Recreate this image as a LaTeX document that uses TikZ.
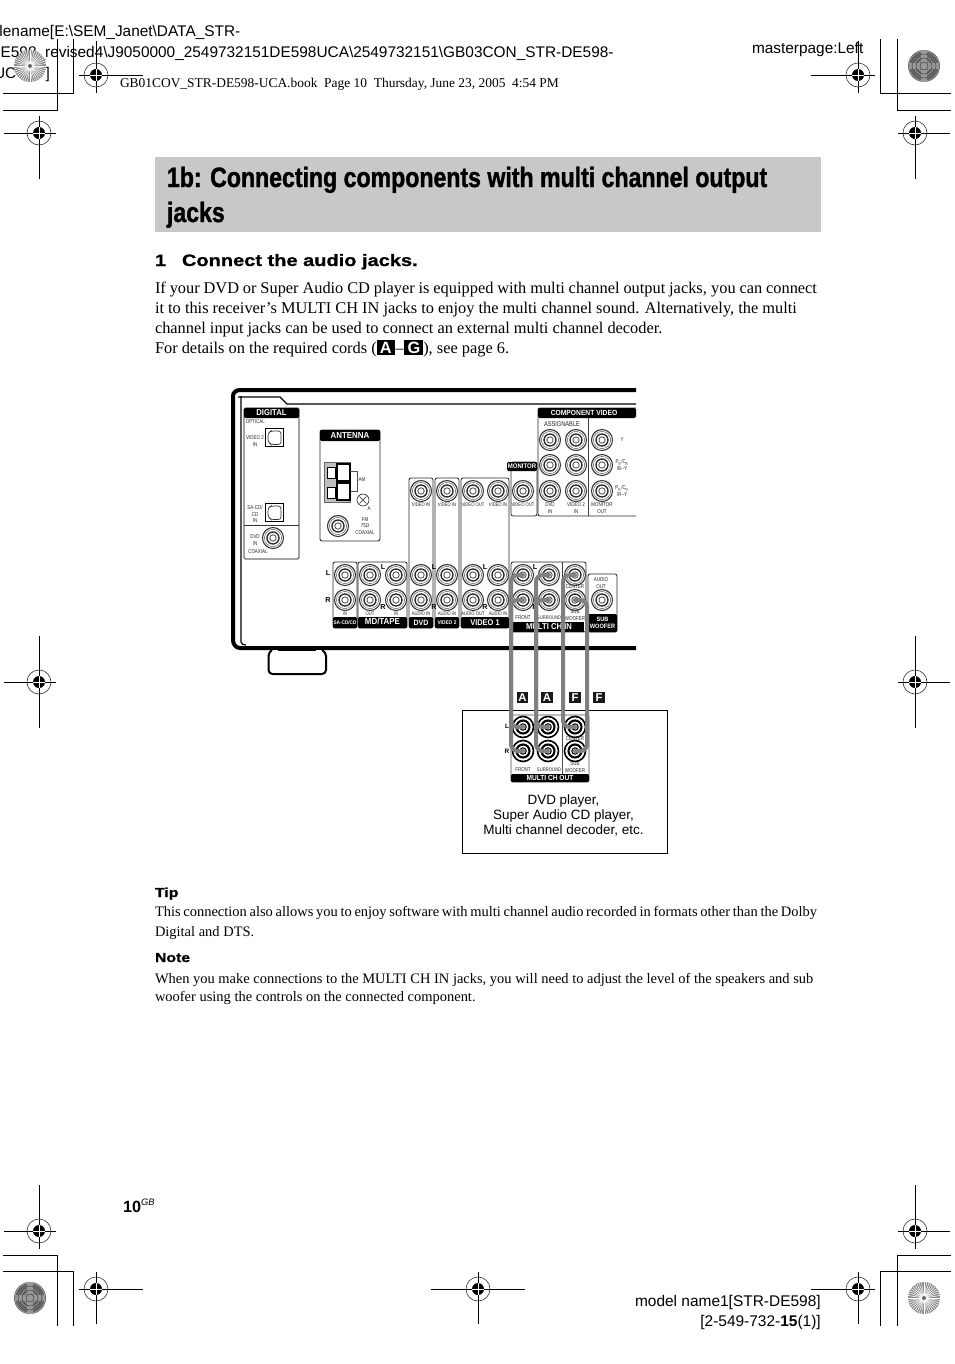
\documentclass[tikz,border=0pt]{standalone}
\usepackage{fontspec}
\setmainfont{Liberation Serif}
\setsansfont{Liberation Sans}
\newfontfamily\titlefont[FakeStretch=0.825,FakeBold=1.3]{Liberation Sans Bold}
\newfontfamily\widebold[FakeStretch=1.21,FakeBold=0.9]{Liberation Sans Bold}
\newfontfamily\tinyfont[FakeStretch=0.8]{Liberation Sans}
\newfontfamily\tinybold[FakeStretch=0.9]{Liberation Sans Bold}
\newcommand{\fsz}[2]{\fontsize{#1}{#2}\selectfont}
\newcommand{\inlinetag}[1]{{\setlength{\fboxsep}{1.3pt}\colorbox{black}{\hspace{1pt}\textcolor{white}{\sffamily\bfseries #1}\hspace{1pt}}}}
\definecolor{cable}{gray}{0.5}
\definecolor{band}{gray}{0.785}
\tikzset{
 x=0.75pt,y=-0.75pt,
 txt/.style={inner sep=0,outer sep=0,anchor=base west},
 hdr/.style={inner sep=0,text=white,font=\tinybold\fsz{6.4}{7}},
 mini/.style={inner sep=0,align=center,text=black!85,font=\tinyfont\fsz{4.2}{4.7}},
 micro/.style={inner sep=0,align=center,text=black!85,font=\tinyfont\fsz{3.9}{4.2}},
 lr/.style={inner sep=0,font=\sffamily\bfseries\fsz{5.4}{6}},
 panel/.style={draw=black!85,line width=0.6pt,rounded corners=1.5pt},
 jacknode/.style={circle,minimum size=21*0.75pt,inner sep=0,draw=black!80,line width=0.8pt},
 cablepath/.style={draw=cable,line width=3pt,rounded corners=5pt,line cap=round},
 regline/.style={draw=black,line width=0.55pt},
 crop/.style={draw=black,line width=0.6pt},
 letter/.style={fill=black!90,text=white,font=\sffamily\bfseries\fsz{8.5}{9},minimum width=8.7pt,minimum height=8.7pt,inner sep=0},
}
\newcommand{\jack}[3]{%
 \node[jacknode] (#1) at (#2,#3) {};
 \draw[black!85,line width=1.0pt] (#1.center) circle[radius=6];
 \draw[black!70,line width=0.6pt] (#1.center) circle[radius=3.2];
 \draw[black!60,line width=0.4pt] (#1.center) circle[radius=8.6];
}
\newcommand{\bjack}[3]{%
 \node[jacknode,line width=1.2pt,draw=black] (#1) at (#2,#3) {};
 \draw[black,line width=1.6pt] (#1.center) circle[radius=6.5];
 \draw[black,line width=0.8pt] (#1.center) circle[radius=3.2];
}
\newcommand{\regmark}[7]{% name x y left right top bottom
 \coordinate (#1) at (#2,#3);
 \draw[regline] (#4,#3) -- (#5,#3);
 \draw[regline] (#2,#6) -- (#2,#7);
 \draw[black!80,line width=0.45pt] (#1) circle[radius=12];
 \fill[black] (#1) circle[radius=6];
 \draw[white,line width=0.55pt] ($(#1)+(-6,0)$) -- ($(#1)+(6,0)$);
 \draw[white,line width=0.55pt] ($(#1)+(0,-6)$) -- ($(#1)+(0,6)$);
}
\newcommand{\radialdisc}[2]{%
 \fill[black!45] (#1,#2) circle[radius=16];
 \foreach \a in {0,9,...,351}{\draw[white,line width=0.4pt] (#1,#2) -- ++(\a:16);}
 \fill[black!60] (#1,#2) circle[radius=2];
}
\newcommand{\moirediscc}[2]{%
 \fill[black!62] (#1,#2) circle[radius=16];
 \foreach \r in {3,6,...,15}{\draw[black!35,line width=0.45pt] (#1,#2) circle[radius=\r];}
 \fill[black!40] ($(#1,#2)+(-3,-16)$) rectangle ($(#1,#2)+(3,16)$);
 \fill[black!40] ($(#1,#2)+(-15,-3)$) rectangle ($(#1,#2)+(15,3)$);
 \foreach \r in {4,8,12}{\draw[black!70,line width=0.45pt] (#1,#2) circle[radius=\r];}
}
\usetikzlibrary{calc}
\begin{document}
\begin{tikzpicture}
\useasboundingbox (0,0) rectangle (954,1364);
\fill[white] (0,0) rectangle (954,1364);
\begin{scope}
\clip (0,0) rectangle (954,1364);
% header text
\node[txt,font=\sffamily\fsz{11.55}{14}] (h1) at (-0.5,36) {lename[E:\textbackslash SEM\_Janet\textbackslash DATA\_STR-};
\node[txt,font=\sffamily\fsz{11.55}{14}] (h2) at (-10.5,57) {DE598\_revised4\textbackslash J9050000\_2549732151DE598UCA\textbackslash 2549732151\textbackslash GB03CON\_STR-DE598-};
\node[txt,font=\sffamily\fsz{11.55}{14}] (h3) at (-6,78) {UC\hspace{22pt}]};
\node[txt,font=\sffamily\fsz{11.55}{14}] (h4) at (752,53) {masterpage:Left};
\node[txt,font=\fsz{10.08}{11}] (h5) at (120,87) {GB01COV\_STR-DE598-UCA.book\ \ Page 10\ \ Thursday, June 23, 2005\ \ 4:54 PM};
% crop marks
\draw[crop] (3,93) -| (73,39);
\draw[crop] (3,110) -| (57,39);
\draw[crop] (951,93) -| (880,39);
\draw[crop] (951,110) -| (897,39);
\draw[crop] (3,1255) -| (57,1326);
\draw[crop] (3,1271) -| (73,1326);
\draw[crop] (951,1255) -| (897,1326);
\draw[crop] (951,1271) -| (880,1326);
\radialdisc{30}{66}
\moirediscc{924}{66}
\moirediscc{30}{1298}
\radialdisc{924}{1298}
\regmark{r1}{96}{75}{79}{143}{41}{93}
\regmark{r2}{39}{133}{4}{56}{116}{179}
\regmark{r3}{858}{75}{811}{875}{41}{93}
\regmark{r4}{915}{133}{898}{950}{116}{179}
\regmark{r5}{39}{682}{4}{56}{636}{728}
\regmark{r6}{915}{682}{898}{950}{636}{728}
\regmark{r7}{39}{1231}{4}{56}{1185}{1249}
\regmark{r8}{96}{1289}{79}{143}{1272}{1324}
\regmark{r9}{478}{1289}{431}{525}{1272}{1324}
\regmark{r10}{858}{1289}{811}{875}{1272}{1324}
\regmark{r11}{915}{1231}{898}{950}{1185}{1249}
% title
\fill[band] (155,157) rectangle (821,232);
\node[txt,font=\titlefont\fsz{21}{24}] (t1) at (167,187) {1b: Connecting components with multi channel output};
\node[txt,font=\titlefont\fsz{21}{24}] (t2) at (167,222) {jacks};
\node[txt,font=\widebold\fsz{12.4}{14}] (s0) at (155,266) {1};
\node[txt,font=\widebold\fsz{12.4}{14}] (s1) at (182,266) {Connect the audio jacks.};
\node[txt,font=\fsz{12.27}{15}] (b1) at (155,293) {\hbox to 496.5pt{\spaceskip=0.15em plus 1em\relax If your DVD or Super Audio CD player is equipped with multi channel output jacks, you can connect}};
\node[txt,font=\fsz{12.27}{15}] (b2) at (155,313) {it to this receiver’s MULTI CH IN jacks to enjoy the multi channel sound. Alternatively, the multi};
\node[txt,font=\fsz{12.27}{15}] (b3) at (155,333) {channel input jacks can be used to connect an external multi channel decoder.};
\node[txt,font=\fsz{12.27}{15}] (b4) at (155,353) {For details on the required cords (\inlinetag{A}\hspace{0.6pt}–\hspace{0.6pt}\inlinetag{G}), see page 6.};
% chassis
\draw[black,line width=3pt] (636,390) -- (240,390) to[out=180,in=90] (233,396) -- (233,640) to[out=270,in=180] (240,648) -- (636,648);
\draw[black,line width=0.9pt] (241,396) -- (241,642) to[out=270,in=180] (246,645);
\draw[black,line width=1pt] (238,397) -- (280,397) -- (287,404) -- (636,404);
\draw[black,line width=1.5pt,rounded corners=3pt,fill=white] (272,650) -- (268.5,652) -- (268.5,674) -- (326,674) -- (326,652) -- (322,650);
\draw[black,line width=0.7pt] (278,650) -- (316,650);
% DIGITAL
\draw[draw=black!55,line width=1pt,rounded corners=1.5pt] (244,408) rectangle (299,559);
\fill[black,rounded corners=1pt] (244,408) rectangle (299,418);
\node[hdr] (ldig) at (271.5,413) {DIGITAL};
\draw[black!80,line width=0.6pt] (244,525) -- (299,525);
\node[mini,anchor=west] (lopt) at (245.5,422) {OPTICAL};
\node[mini] (lv2) at (255,441) {VIDEO 2\\IN};
\node[mini] (lsa) at (255,514) {SA-CD/\\CD\\IN};
\node[mini] (ldvd) at (255,540) {DVD\\IN};
\node[mini,anchor=west] (lco) at (248,552) {COAXIAL};
\node[draw=black,line width=1.2pt,minimum size=13.5pt,inner sep=0] (op1) at (274.5,437.5) {};
\draw[black!80,line width=0.5pt,rounded corners=2pt] (268,442) -- (271,444.5) -- (281,444.5) -- (281,431) -- (271,431) -- (268,433) -- cycle;
\node[draw=black,line width=1.2pt,minimum size=13.5pt,inner sep=0] (op2) at (274.5,512.5) {};
\draw[black!80,line width=0.5pt,rounded corners=2pt] (268,517) -- (271,519.5) -- (281,519.5) -- (281,506) -- (271,506) -- (268,508) -- cycle;
\jack{jcoax}{273}{538}
% ANTENNA
\node[panel,minimum width=45pt,minimum height=83.2pt,inner sep=0] (ant) at (350,485.5) {};
\fill[black,rounded corners=1pt] (320,430) rectangle (380,441);
\node[hdr,font=\tinybold\fsz{6.6}{7}] (lant) at (350,435.5) {ANTENNA};
\fill[black!25] (324,462) rectangle (350,502);
\draw[black!60,line width=0.4pt] (324,462) rectangle (350,502);
\draw[black,line width=0.8pt,fill=white] (337,464) rectangle (350,481);
\draw[black,line width=0.8pt,fill=white] (337,483) rectangle (350,500);
\draw[black,line width=0.7pt,fill=white] (327,467) rectangle (335,478);
\draw[black,line width=0.7pt,fill=white] (327,487) rectangle (335,498);
\draw[black!70,line width=0.5pt] (350,471) -- (357,471) -- (357,491) -- (350,491);
\node[mini] (lam) at (362,480) {AM};
\node[draw=black!85,circle,line width=0.5pt,minimum size=9pt,inner sep=0] (screw) at (363,500) {};
\draw[black!85,line width=0.5pt] (359.5,496.5) -- (366.5,503.5) (359.5,503.5) -- (366.5,496.5);
\node[mini] (lgnd) at (369,509) {A};
\jack{jfm}{338}{526}
\node[mini] (lfm) at (365,526) {FM\\75Ω\\COAXIAL};
% audio boxes
\node[panel,minimum width=18pt,minimum height=49.5pt,inner sep=0] (bsa) at (345,595) {};
\fill[black,rounded corners=1pt] (333,617) rectangle (357,628);
\node[hdr,font=\tinybold\fsz{3.9}{5}] (lsac) at (345,622.5) {SA-CD/CD};
\node[panel,minimum width=36.8pt,minimum height=49.5pt,inner sep=0] (bmd) at (382.5,595) {};
\fill[black,rounded corners=1pt] (358,617) rectangle (407,628);
\node[hdr,font=\tinybold\fsz{6.6}{7}] (lmd) at (382.5,621.5) {MD/TAPE};
\node[panel,minimum width=18pt,minimum height=112.5pt,inner sep=0] (bdvd) at (421,553) {};
\fill[black,rounded corners=1pt] (409,617) rectangle (433,628);
\node[hdr,font=\tinybold\fsz{5.8}{7}] (ldv) at (421,622.5) {DVD};
\node[panel,minimum width=18pt,minimum height=112.5pt,inner sep=0] (bv2) at (447,553) {};
\fill[black,rounded corners=1pt] (435,617) rectangle (459,628);
\node[hdr,font=\tinybold\fsz{4}{5}] (lv2b) at (447,622.5) {VIDEO 2};
\node[panel,minimum width=36pt,minimum height=112.5pt,inner sep=0] (bv1) at (485,553) {};
\fill[black,rounded corners=1pt] (461,617) rectangle (509,628);
\node[hdr,font=\tinybold\fsz{6.2}{7}] (lv1) at (485,622.5) {VIDEO 1};
% monitor
\node[panel,minimum width=19.5pt,minimum height=40.5pt,inner sep=0] (bmon) at (524,489) {};
\fill[black,rounded corners=1pt] (507,462) rectangle (537,471);
\node[hdr,font=\tinybold\fsz{5}{5}] (lmon) at (522,466.5) {MONITOR};
% component
\draw[panel] (636,516) -- (538,516) -- (538,408) -- (636,408);
\fill[black,rounded corners=1pt] (538,408) rectangle (636,418);
\node[hdr,font=\tinybold\fsz{5.6}{6}] (lcomp) at (584,413) {COMPONENT VIDEO};
\draw[black!75,line width=0.6pt] (588,418) -- (588,516);
\node[mini,font=\tinyfont\fsz{5.3}{6}] (lass) at (562,424.5) {ASSIGNABLE};
% multi ch in
\draw[panel] (511,562) rectangle (586,632);
\draw[black!75,line width=0.6pt] (562,562) -- (562,622);
\fill[black] (513,622) rectangle (584,632);
\node[hdr,font=\tinybold\fsz{6.4}{7}] (lmci) at (549,627) {MULTI CH IN};
% sub woofer
\node[panel,minimum width=21.75pt,minimum height=43.5pt,inner sep=0] (bsub) at (602.5,603) {};
\fill[black,rounded corners=1pt] (588,614) rectangle (617,632);
\node[hdr,font=\tinybold\fsz{4.7}{5.4},align=center] (lsub) at (602.5,623) {SUB\\WOOFER};
\node[mini] (laud) at (601,583) {AUDIO\\OUT};
% jacks
\jack{sa1}{345}{575}\jack{sa2}{345}{600}
\jack{md1}{370}{575}\jack{md2}{370}{600}\jack{md3}{396}{575}\jack{md4}{396}{600}
\jack{dv0}{421}{491}\jack{dv1}{421}{575}\jack{dv2}{421}{600}
\jack{v20}{447}{491}\jack{v21}{447}{575}\jack{v22}{447}{600}
\jack{v10}{473}{491}\jack{v1i}{498}{491}\jack{v11}{473}{575}\jack{v12}{473}{600}\jack{v13}{498}{575}\jack{v14}{498}{600}
\jack{mo0}{523}{491}
\jack{c11}{550}{440}\jack{c12}{550}{465}\jack{c13}{550}{491}
\jack{c21}{576}{440}\jack{c22}{576}{465}\jack{c23}{576}{491}
\jack{c31}{602}{440}\jack{c32}{602}{465}\jack{c33}{602}{491}
\jack{mfl}{523}{575}\jack{mfr}{523}{600}\jack{msl}{549}{575}\jack{msr}{549}{600}
\jack{mce}{575}{575}\jack{msw}{575}{600}
\jack{jsub}{602}{600}
% small labels
\foreach \xx/\tt in {345/IN,370/OUT,396/IN,421/AUDIO IN,447/AUDIO IN,473/AUDIO OUT,498/AUDIO IN}{\node[micro] at (\xx,613.5) {\tt};}
\foreach \xx/\tt in {421/VIDEO IN,447/VIDEO IN,473/VIDEO OUT,498/VIDEO IN,523/VIDEO OUT}{\node[micro] at (\xx,505) {\tt};}
\node[mini] (ld1) at (550,508) {DVD\\IN};
\node[mini] (ld2) at (576,508) {VIDEO 2\\IN};
\node[mini] (ld3) at (602,508) {MONITOR\\OUT};
\node[mini] (ly) at (622,440) {Y};
\node[mini] (lpb) at (622,465) {P\textsubscript{B}/C\textsubscript{B}\\/B--Y};
\node[mini] (lpr) at (622,491) {P\textsubscript{R}/C\textsubscript{R}\\/R--Y};
\node[mini] (lfr) at (523,618) {FRONT};
\node[micro] (lsu) at (549,618) {SURROUND};
\node[mini] (lce) at (575,587) {CENTER};
\node[mini] (lsw) at (575,615) {SUB\\WOOFER};
\foreach \xx/\yy/\tt in {328/573/L,328/600/R,383/567/L,383/607/R,434/567/L,434/607/R,485/567/L,485/607/R,535/567/L,535/607/R}{\node[lr] at (\xx,\yy) {\tt};}
% device
\node[draw=black,line width=0.6pt,minimum width=153.4pt,minimum height=107.25pt,inner sep=0] (dev) at (564.75,782) {};
\draw[black!70,line width=0.6pt,rounded corners=1.5pt] (511,715) rectangle (589,782);
\draw[black!70,line width=0.6pt] (562,715) -- (562,775);
\fill[black,rounded corners=1pt] (511,774) rectangle (589,782);
\node[hdr,font=\tinybold\fsz{5.5}{6}] (lmco) at (550,778) {MULTI CH OUT};
\bjack{dfl}{523}{727}\bjack{dfr}{523}{751}\bjack{dsl}{548}{727}\bjack{dsr}{548}{751}
\bjack{dce}{575}{727}\bjack{dsw}{575}{751}
\node[lr,font=\sffamily\bfseries\fsz{4.8}{5}] (ldl) at (507,726) {L};
\node[lr,font=\sffamily\bfseries\fsz{4.8}{5}] (ldr) at (507,751) {R};
\node[mini] (dfr2) at (523,770) {FRONT};
\node[micro] (dsu) at (549,770) {SURROUND};
\node[mini] (dcn) at (575,739) {CENTER};
\node[mini] (dsb) at (575,767) {SUB\\WOOFER};
\node[inner sep=0,align=center,font=\sffamily\fsz{10.1}{11.3}] (ldev) at (563.5,815.5) {DVD player,\\Super Audio CD player,\\Multi channel decoder, etc.};
% cables
\draw[cablepath] (mfl.center) -- (511,575) -- (511,727) -- (dfl.center);
\draw[cablepath] (mfr.center) -- (511,600) -- (511,751) -- (dfr.center);
\draw[cablepath] (msl.center) -- (536,575) -- (536,727) -- (dsl.center);
\draw[cablepath] (msr.center) -- (536,600) -- (536,751) -- (dsr.center);
\draw[cablepath] (mce.center) -- (563,575) -- (563,727) -- (dce.center);
\draw[cablepath] (msw.center) -- (587,600) -- (587,751) -- (dsw.center);
% letter tags
\node[letter] (ta1) at (522.5,697.5) {A};
\node[letter] (ta2) at (547,697.5) {A};
\node[letter] (tf1) at (575,697.5) {F};
\node[letter] (tf2) at (599,697.5) {F};
% tip + note
\node[txt,font=\widebold\fsz{9.8}{11}] (tip) at (155,897) {Tip};
\node[txt,font=\fsz{10.85}{13}] (ti1) at (155,916) {\hbox to 496.5pt{\spaceskip=0.15em plus 1em\relax This connection also allows you to enjoy software with multi channel audio recorded in formats other than the Dolby}};
\node[txt,font=\fsz{10.85}{13}] (ti2) at (155,936) {Digital and DTS.};
\node[txt,font=\widebold\fsz{9.8}{11}] (note) at (155,962) {Note};
\node[txt,font=\fsz{10.85}{13}] (no1) at (155,983) {When you make connections to the MULTI CH IN jacks, you will need to adjust the level of the speakers and sub};
\node[txt,font=\fsz{10.85}{13}] (no2) at (155,1001) {woofer using the controls on the connected component.};
% footer
\node[txt,font=\sffamily\bfseries\fsz{12.2}{14}] (pg) at (123,1212) {10\raisebox{4.6pt}{\fsz{7}{8}\mdseries\itshape GB}};
\node[inner sep=0,anchor=base east,font=\sffamily\fsz{11.6}{15}] (m1) at (821,1306) {model name1[STR-DE598]};
\node[inner sep=0,anchor=base east,font=\sffamily\fsz{11.6}{15}] (m2) at (821,1326) {[2-549-732-\textbf{15}(1)]};
\end{scope}
\end{tikzpicture}
\end{document}
